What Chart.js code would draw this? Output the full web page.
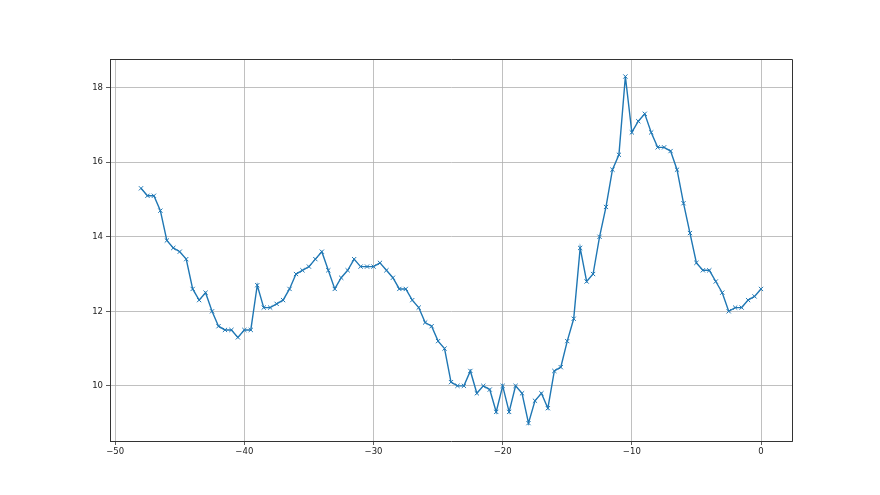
<!DOCTYPE html>
<html>
<head>
<meta charset="utf-8">
<script src="https://cdn.jsdelivr.net/npm/chart.js@4.4.0/dist/chart.umd.min.js"></script>
<style>
  html, body { margin: 0; padding: 0; background: #fff; }
  #wrap { width: 880px; height: 495px; }
</style>
</head>
<body>
<div id="wrap"><canvas id="chart" width="880" height="495"></canvas></div>
<script>
// x positions of the samples
const xValues = [
  -48, -47.5, -47, -46.5, -46, -45.5, -45, -44.5, -44, -43.5,
  -43, -42.5, -42, -41.5, -41, -40.5, -40, -39.5, -39, -38.5,
  -38, -37.5, -37, -36.5, -36, -35.5, -35, -34.5, -34, -33.5,
  -33, -32.5, -32, -31.5, -31, -30.5, -30, -29.5, -29, -28.5,
  -28, -27.5, -27, -26.5, -26, -25.5, -25, -24.5, -24, -23.5,
  -23, -22.5, -22, -21.5, -21, -20.5, -20, -19.5, -19, -18.5,
  -18, -17.5, -17, -16.5, -16, -15.5, -15, -14.5, -14, -13.5,
  -13, -12.5, -12, -11.5, -11, -10.5, -10, -9.5, -9, -8.5,
  -8, -7.5, -7, -6.5, -6, -5.5, -5, -4.5, -4, -3.5,
  -3, -2.5, -2, -1.5, -1, -0.5, 0
];

// values
const yValues = [
  15.3, 15.1, 15.1, 14.7, 13.9, 13.7, 13.6, 13.4, 12.6, 12.3,
  12.5, 12.0, 11.6, 11.5, 11.5, 11.3, 11.5, 11.5, 12.7, 12.1,
  12.1, 12.2, 12.3, 12.6, 13.0, 13.1, 13.2, 13.4, 13.6, 13.1,
  12.6, 12.9, 13.1, 13.4, 13.2, 13.2, 13.2, 13.3, 13.1, 12.9,
  12.6, 12.6, 12.3, 12.1, 11.7, 11.6, 11.2, 11.0, 10.1, 10.0,
  10.0, 10.4, 9.8, 10.0, 9.9, 9.3, 10.0, 9.3, 10.0, 9.8,
  9.0, 9.6, 9.8, 9.4, 10.4, 10.5, 11.2, 11.8, 13.7, 12.8,
  13.0, 14.0, 14.8, 15.8, 16.2, 18.3, 16.8, 17.1, 17.3, 16.8,
  16.4, 16.4, 16.3, 15.8, 14.9, 14.1, 13.3, 13.1, 13.1, 12.8,
  12.5, 12.0, 12.1, 12.1, 12.3, 12.4, 12.6
];

const xTicks = [-50, -40, -30, -20, -10, 0];
const yTicks = [10, 12, 14, 16, 18];

const points = xValues.map((x, i) => ({ x: x, y: yValues[i] }));

const tickFont = { family: 'DejaVu Sans', size: 8.5 };
const gridColor = '#b0b0b0';
const axisColor = '#333333';

// ใช้เครื่องหมายลบแบบ unicode ให้เหมือน matplotlib
const fmt = v => String(v).replace('-', '\u2212');

new Chart(document.getElementById('chart'), {
  type: 'line',
  data: {
    datasets: [{
      data: points,
      borderColor: '#1f77b4',
      backgroundColor: '#1f77b4',
      borderWidth: 1.4,
      pointStyle: 'crossRot',
      pointRadius: 3,
      pointBorderWidth: 1,
      pointBorderColor: '#1f77b4',
      tension: 0,
      fill: false
    }]
  },
  options: {
    responsive: false,
    animation: false,
    events: [],
    layout: { padding: { top: 59, right: 88, left: 0, bottom: 0 } },
    plugins: { legend: { display: false }, tooltip: { enabled: false } },
    scales: {
      x: {
        type: 'linear',
        min: -50.4,
        max: 2.4,
        afterFit: s => { s.height = 54; },
        afterBuildTicks: s => { s.ticks = xTicks.map(v => ({ value: v })); },
        border: { color: axisColor, width: 1 },
        grid: { color: gridColor, lineWidth: 0.8, tickColor: axisColor, tickLength: 4, tickWidth: 0.8 },
        ticks: { color: '#222', font: tickFont, padding: 2, maxRotation: 0, callback: fmt }
      },
      y: {
        min: 8.52,
        max: 18.77,
        afterFit: s => { s.width = 110; },
        afterBuildTicks: s => { s.ticks = yTicks.map(v => ({ value: v })); },
        border: { color: axisColor, width: 1 },
        grid: { color: gridColor, lineWidth: 0.8, tickColor: axisColor, tickLength: 4, tickWidth: 0.8 },
        ticks: { color: '#222', font: tickFont, padding: 3, callback: fmt }
      }
    }
  },
  plugins: [{
    id: 'frame',
    // matplotlib มีกรอบสี่ด้าน
    afterDraw(chart) {
      const a = chart.chartArea, c = chart.ctx;
      c.save();
      c.strokeStyle = axisColor;
      c.lineWidth = 1;
      c.beginPath();
      c.moveTo(a.left, a.top + 0.5);
      c.lineTo(a.right + 0.5, a.top + 0.5);
      c.lineTo(a.right + 0.5, a.bottom);
      c.stroke();
      c.restore();
    }
  }]
});
</script>
</body>
</html>
